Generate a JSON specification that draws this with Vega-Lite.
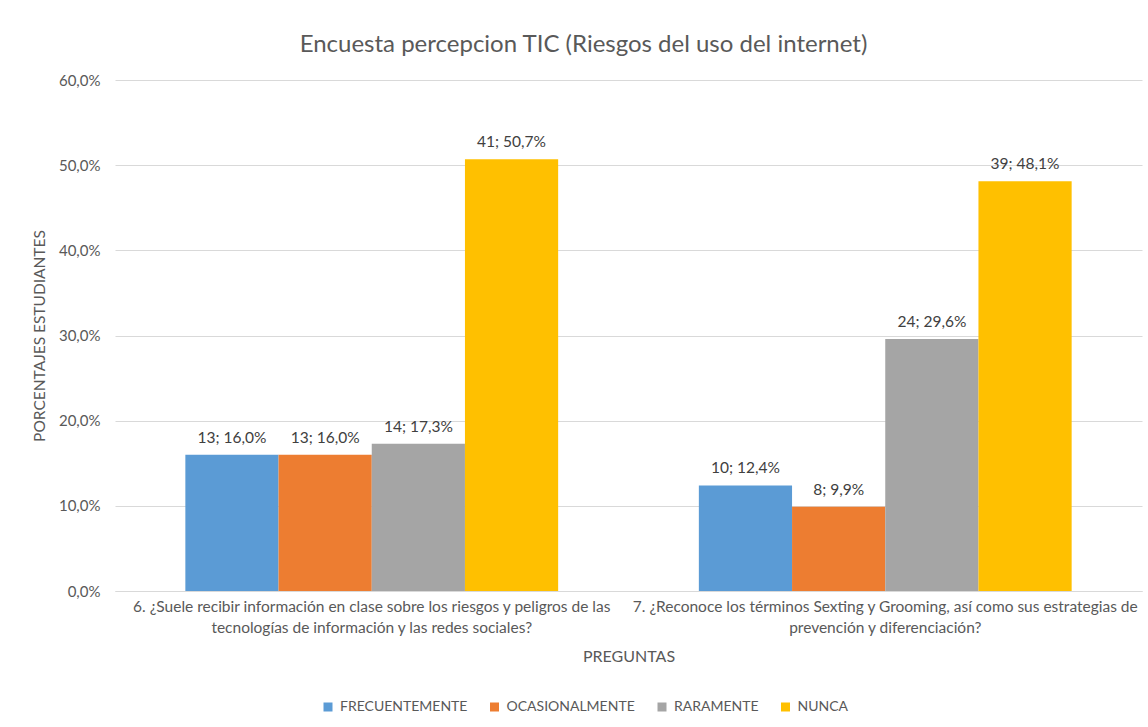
{
  "$schema": "https://vega.github.io/schema/vega-lite/v6.json",
  "width": 1027,
  "height": 511,
  "autosize": {"type": "none"},
  "padding": {"left": 115, "top": 80, "right": 6, "bottom": 136},
  "background": "white",
  "title": {
    "text": "Encuesta percepcion TIC (Riesgos del uso del internet)",
    "font": "Lato",
    "fontSize": 24,
    "fontWeight": "normal",
    "color": "#595959",
    "anchor": "middle",
    "dx": -45,
    "offset": 16
  },
  "data": {
    "values": [
      {"pregunta": "6. ¿Suele recibir información en clase sobre los riesgos y peligros de las\ntecnologías de información y las redes sociales?", "respuesta": "FRECUENTEMENTE", "n": 13, "pct": 0.160, "etiqueta": "13; 16,0%"},
      {"pregunta": "6. ¿Suele recibir información en clase sobre los riesgos y peligros de las\ntecnologías de información y las redes sociales?", "respuesta": "OCASIONALMENTE", "n": 13, "pct": 0.160, "etiqueta": "13; 16,0%"},
      {"pregunta": "6. ¿Suele recibir información en clase sobre los riesgos y peligros de las\ntecnologías de información y las redes sociales?", "respuesta": "RARAMENTE", "n": 14, "pct": 0.173, "etiqueta": "14; 17,3%"},
      {"pregunta": "6. ¿Suele recibir información en clase sobre los riesgos y peligros de las\ntecnologías de información y las redes sociales?", "respuesta": "NUNCA", "n": 41, "pct": 0.507, "etiqueta": "41; 50,7%"},
      {"pregunta": "7. ¿Reconoce los términos Sexting y Grooming, así como sus estrategias de\nprevención y diferenciación?", "respuesta": "FRECUENTEMENTE", "n": 10, "pct": 0.124, "etiqueta": "10; 12,4%"},
      {"pregunta": "7. ¿Reconoce los términos Sexting y Grooming, así como sus estrategias de\nprevención y diferenciación?", "respuesta": "OCASIONALMENTE", "n": 8, "pct": 0.099, "etiqueta": "8; 9,9%"},
      {"pregunta": "7. ¿Reconoce los términos Sexting y Grooming, así como sus estrategias de\nprevención y diferenciación?", "respuesta": "RARAMENTE", "n": 24, "pct": 0.296, "etiqueta": "24; 29,6%"},
      {"pregunta": "7. ¿Reconoce los términos Sexting y Grooming, así como sus estrategias de\nprevención y diferenciación?", "respuesta": "NUNCA", "n": 39, "pct": 0.481, "etiqueta": "39; 48,1%"}
    ]
  },
  "encoding": {
    "x": {
      "field": "pregunta",
      "type": "nominal",
      "sort": null,
      "scale": {"paddingInner": 0.274, "paddingOuter": 0.137},
      "axis": {
        "title": "PREGUNTAS",
        "titleFontSize": 16,
        "labelAngle": 0,
        "labelExpr": "split(datum.label, '\\n')",
        "labelLimit": 0,
        "labelFontSize": 15.5,
        "labelPadding": 8,
        "labelLineHeight": 21,
        "labelBaseline": "top",
        "ticks": false,
        "domainColor": "#D9D9D9",
        "titlePadding": 13
      }
    },
    "xOffset": {
      "field": "respuesta",
      "type": "nominal",
      "sort": ["FRECUENTEMENTE", "OCASIONALMENTE", "RARAMENTE", "NUNCA"],
      "scale": {"paddingInner": 0, "paddingOuter": 0}
    },
    "y": {
      "field": "pct",
      "type": "quantitative",
      "scale": {"domain": [0, 0.6]},
      "axis": {
        "title": "PORCENTAJES ESTUDIANTES",
        "titleFontSize": 15.5,
        "format": ".1%",
        "values": [0, 0.1, 0.2, 0.3, 0.4, 0.5, 0.6],
        "domain": false,
        "ticks": false,
        "labelFontSize": 15,
        "labelPadding": 15,
        "gridColor": "#D9D9D9",
        "titlePadding": 11
      }
    }
  },
  "layer": [
    {
      "mark": {"type": "bar"},
      "encoding": {
        "color": {
          "field": "respuesta",
          "type": "nominal",
          "sort": ["FRECUENTEMENTE", "OCASIONALMENTE", "RARAMENTE", "NUNCA"],
          "scale": {
            "domain": ["FRECUENTEMENTE", "OCASIONALMENTE", "RARAMENTE", "NUNCA"],
            "range": ["#5B9BD5", "#ED7D31", "#A5A5A5", "#FFC000"]
          },
          "legend": {
            "title": null,
            "orient": "none",
            "direction": "horizontal",
            "legendX": 206,
            "legendY": 620,
            "symbolType": "square",
            "symbolSize": 81,
            "symbolStrokeWidth": 0,
            "labelOffset": 5,
            "columnPadding": 19.5,
            "labelFont": "Lato",
            "labelFontSize": 14,
            "labelColor": "#595959"
          }
        }
      }
    },
    {
      "mark": {"type": "text", "baseline": "bottom", "dy": -9, "font": "Lato", "fontSize": 15.5, "color": "#404040"},
      "encoding": {"text": {"field": "etiqueta"}}
    }
  ],
  "config": {
    "locale": {"number": {"decimal": ",", "thousands": ".", "grouping": [3], "currency": ["", " €"]}},
    "view": {"stroke": null},
    "axis": {
      "labelFont": "Lato",
      "labelFontSize": 14,
      "labelColor": "#595959",
      "titleFont": "Lato",
      "titleFontSize": 14,
      "titleFontWeight": "normal",
      "titleColor": "#595959"
    }
  }
}
